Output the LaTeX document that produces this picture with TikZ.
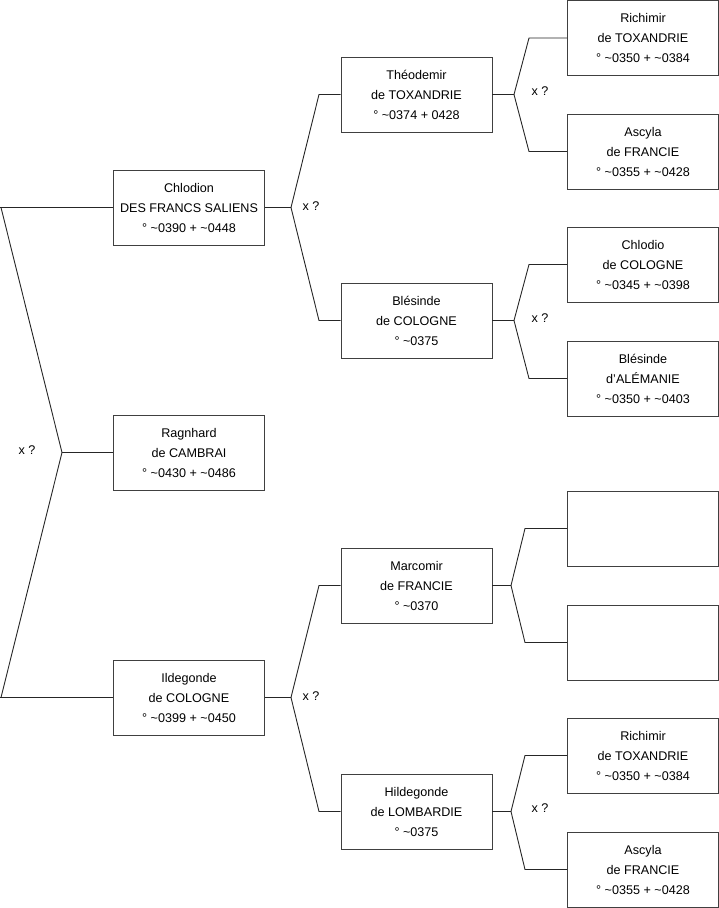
\documentclass[tikz,border=0pt]{standalone}
\usepackage{fontspec}
\setmainfont{Liberation Sans}
\begin{document}
\begin{tikzpicture}[x=1pt,y=-1pt,
  person/.style={draw=black!75,line width=0.9pt,fill=white,rectangle,minimum width=151pt,minimum height=75pt,inner sep=0pt,align=center,font=\fontsize{12.6}{20}\selectfont},
  link/.style={draw=black!85,line width=0.9pt},
  xq/.style={font=\fontsize{12.6}{14}\selectfont,inner sep=0pt}]
\useasboundingbox (0,0) rectangle (719,908);
% level 1
\node[person] (chl) at (189,207.5) {Chlodion\\DES FRANCS SALIENS\\° \textasciitilde0390 + \textasciitilde0448};
\node[person] (rag) at (189,452.5) {Ragnhard\\de CAMBRAI\\° \textasciitilde0430 + \textasciitilde0486};
\node[person] (ild) at (189,697.5) {Ildegonde\\de COLOGNE\\° \textasciitilde0399 + \textasciitilde0450};
% level 2
\node[person] (the) at (416.5,94.5) {Théodemir\\de TOXANDRIE\\° \textasciitilde0374 + 0428};
\node[person] (ble) at (416.5,320.5) {Blésinde\\de COLOGNE\\° \textasciitilde0375};
\node[person] (mar) at (416.5,585.5) {Marcomir\\de FRANCIE\\° \textasciitilde0370};
\node[person] (hil) at (416.5,811.5) {Hildegonde\\de LOMBARDIE\\° \textasciitilde0375};
% level 3
\node[person] (ric1) at (643,38) {Richimir\\de TOXANDRIE\\° \textasciitilde0350 + \textasciitilde0384};
\node[person] (asc1) at (643,151.5) {Ascyla\\de FRANCIE\\° \textasciitilde0355 + \textasciitilde0428};
\node[person] (chd) at (643,264.5) {Chlodio\\de COLOGNE\\° \textasciitilde0345 + \textasciitilde0398};
\node[person] (bla) at (643,378.5) {Blésinde\\d'ALÉMANIE\\° \textasciitilde0350 + \textasciitilde0403};
\node[person] (emp1) at (643,528.5) {};
\node[person] (emp2) at (643,642.5) {};
\node[person] (ric2) at (643,755.5) {Richimir\\de TOXANDRIE\\° \textasciitilde0350 + \textasciitilde0384};
\node[person] (asc2) at (643,869.5) {Ascyla\\de FRANCIE\\° \textasciitilde0355 + \textasciitilde0428};
% level 0 connectors
\coordinate (f0) at (62,452.5);
\coordinate (e1) at (1,207.5);
\coordinate (e2) at (1,697.5);
\draw[link] (chl.west) -- (0,207.5) coordinate (h1);
\draw[link] (ild.west) -- (0,697.5) coordinate (h2);
\draw[link] (e1) -- (f0) -- (e2);
\draw[link] (f0) -- (rag.west);
\node[xq] (x0) at (27,450.5) {x ?};
% level 1 forks
\coordinate (f1) at (291,207.5);
\coordinate (f1a) at (319,94.5);
\coordinate (f1b) at (319,320.5);
\draw[link] (chl.east) -- (f1);
\draw[link] (the.west) -- (f1a) -- (f1) -- (f1b) -- (ble.west);
\node[xq] (x1) at (311,206.5) {x ?};
\coordinate (f2) at (291,697.5);
\coordinate (f2a) at (319,585.5);
\coordinate (f2b) at (319,811.5);
\draw[link] (ild.east) -- (f2);
\draw[link] (mar.west) -- (f2a) -- (f2) -- (f2b) -- (hil.west);
\node[xq] (x2) at (311,696.5) {x ?};
% level 2 forks
\coordinate (g1) at (514,94.5);
\coordinate (g1a) at (529,38);
\coordinate (g1b) at (529,151.5);
\draw[link] (the.east) -- (g1);
\draw[link] (ric1.west) -- (g1a) -- (g1) -- (g1b) -- (asc1.west);
\node[xq] (x3) at (540,91.5) {x ?};
\coordinate (g2) at (514,320.5);
\coordinate (g2a) at (529,264.5);
\coordinate (g2b) at (529,378.5);
\draw[link] (ble.east) -- (g2);
\draw[link] (chd.west) -- (g2a) -- (g2) -- (g2b) -- (bla.west);
\node[xq] (x4) at (540,318.5) {x ?};
\coordinate (g3) at (511,585.5);
\coordinate (g3a) at (525,528.5);
\coordinate (g3b) at (525,642.5);
\draw[link] (mar.east) -- (g3);
\draw[link] (emp1.west) -- (g3a) -- (g3) -- (g3b) -- (emp2.west);
\coordinate (g4) at (511,811.5);
\coordinate (g4a) at (525,755.5);
\coordinate (g4b) at (525,869.5);
\draw[link] (hil.east) -- (g4);
\draw[link] (ric2.west) -- (g4a) -- (g4) -- (g4b) -- (asc2.west);
\node[xq] (x5) at (540,808.5) {x ?};
\end{tikzpicture}
\end{document}
